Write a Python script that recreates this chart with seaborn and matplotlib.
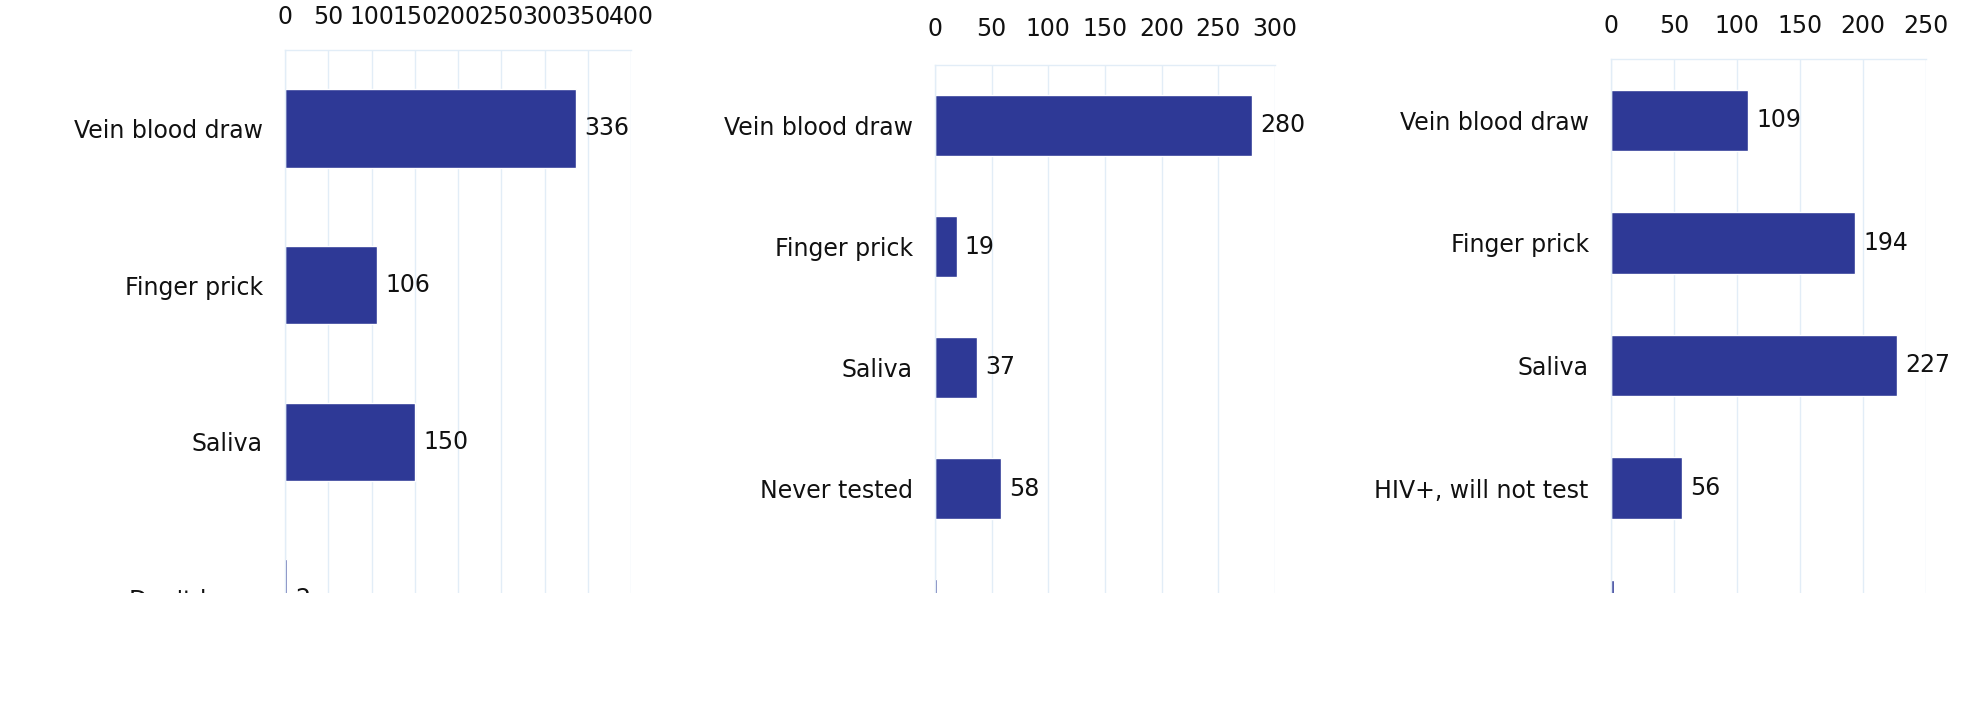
import matplotlib
matplotlib.use("Agg")
import matplotlib.pyplot as plt
from matplotlib.patches import Rectangle
import seaborn as sns
import pandas as pd
import numpy as np

# ---- data ----
p1_categories = ["Vein blood draw", "Finger prick", "Saliva", "Don't know"]
p1_values = [336, 106, 150, 2]
p1_ticks = [0, 50, 100, 150, 200, 250, 300, 350, 400]

p2_categories = ["Vein blood draw", "Finger prick", "Saliva", "Never tested", "Don't know"]
p2_values = [280, 19, 37, 58, 2]
p2_ticks = [0, 50, 100, 150, 200, 250, 300]

p3_categories = ["Vein blood draw", "Finger prick", "Saliva", "HIV+, will not test", "Don't know"]
p3_values = [109, 194, 227, 56, 2]
p3_ticks = [0, 50, 100, 150, 200, 250]

BAR = "#2E3996"
GRID = "#E2EDF7"
FS = 17

sns.set_theme(style="white")
plt.rcParams["font.family"] = ["DejaVu Sans"]

W, H = 1966, 722
fig = plt.figure(figsize=(W / 100, H / 100), dpi=100)

# axes boxes in pixels: left, right, top, bottom
boxes = [(285, 631, 50, 677), (935, 1275, 65, 670), (1611, 1926, 59, 672)]
panels = [(p1_categories, p1_values, p1_ticks),
          (p2_categories, p2_values, p2_ticks),
          (p3_categories, p3_values, p3_ticks)]
pads = [15, 17, 15]

for (l, r, t, b), (cats, vals, ticks), pad in zip(boxes, panels, pads):
    ax = fig.add_axes([l / W, 1 - b / H, (r - l) / W, (b - t) / H])
    df = pd.DataFrame({"cat": cats, "val": vals})
    sns.barplot(data=df, x="val", y="cat", ax=ax, color=BAR, saturation=1,
                width=0.5, orient="h")
    for c in ax.containers:
        ax.bar_label(c, padding=6, fontsize=FS, color="#111111")
    ax.set_xlim(ticks[0], ticks[-1])
    ax.set_ylim(len(cats) - 0.5, -0.5)
    ax.set_xticks(ticks)
    ax.xaxis.tick_top()
    ax.tick_params(axis="x", which="both", length=0, pad=pad, labelsize=FS,
                   labelcolor="#111111", top=True, bottom=False)
    ax.tick_params(axis="y", which="major", length=0, pad=16, labelsize=FS,
                   labelcolor="#111111")
    ax.set_yticks(np.arange(-0.5, len(cats), 1.0), minor=True)
    ax.tick_params(axis="y", which="minor", length=7, color=GRID, width=1)
    ax.set_xlabel("")
    ax.set_ylabel("")
    ax.grid(axis="x", color=GRID, linewidth=1)
    ax.set_axisbelow(True)
    for s in ["right", "bottom"]:
        ax.spines[s].set_visible(False)
    for s in ["left", "top"]:
        ax.spines[s].set_color(GRID)
        ax.spines[s].set_linewidth(1)

# the reference is cut off below this line
fig.add_artist(Rectangle((0, 0), 1, 1 - 593 / H, transform=fig.transFigure,
                         facecolor="white", edgecolor="none", zorder=50))

fig.savefig("out.png", dpi=100, facecolor="white")
